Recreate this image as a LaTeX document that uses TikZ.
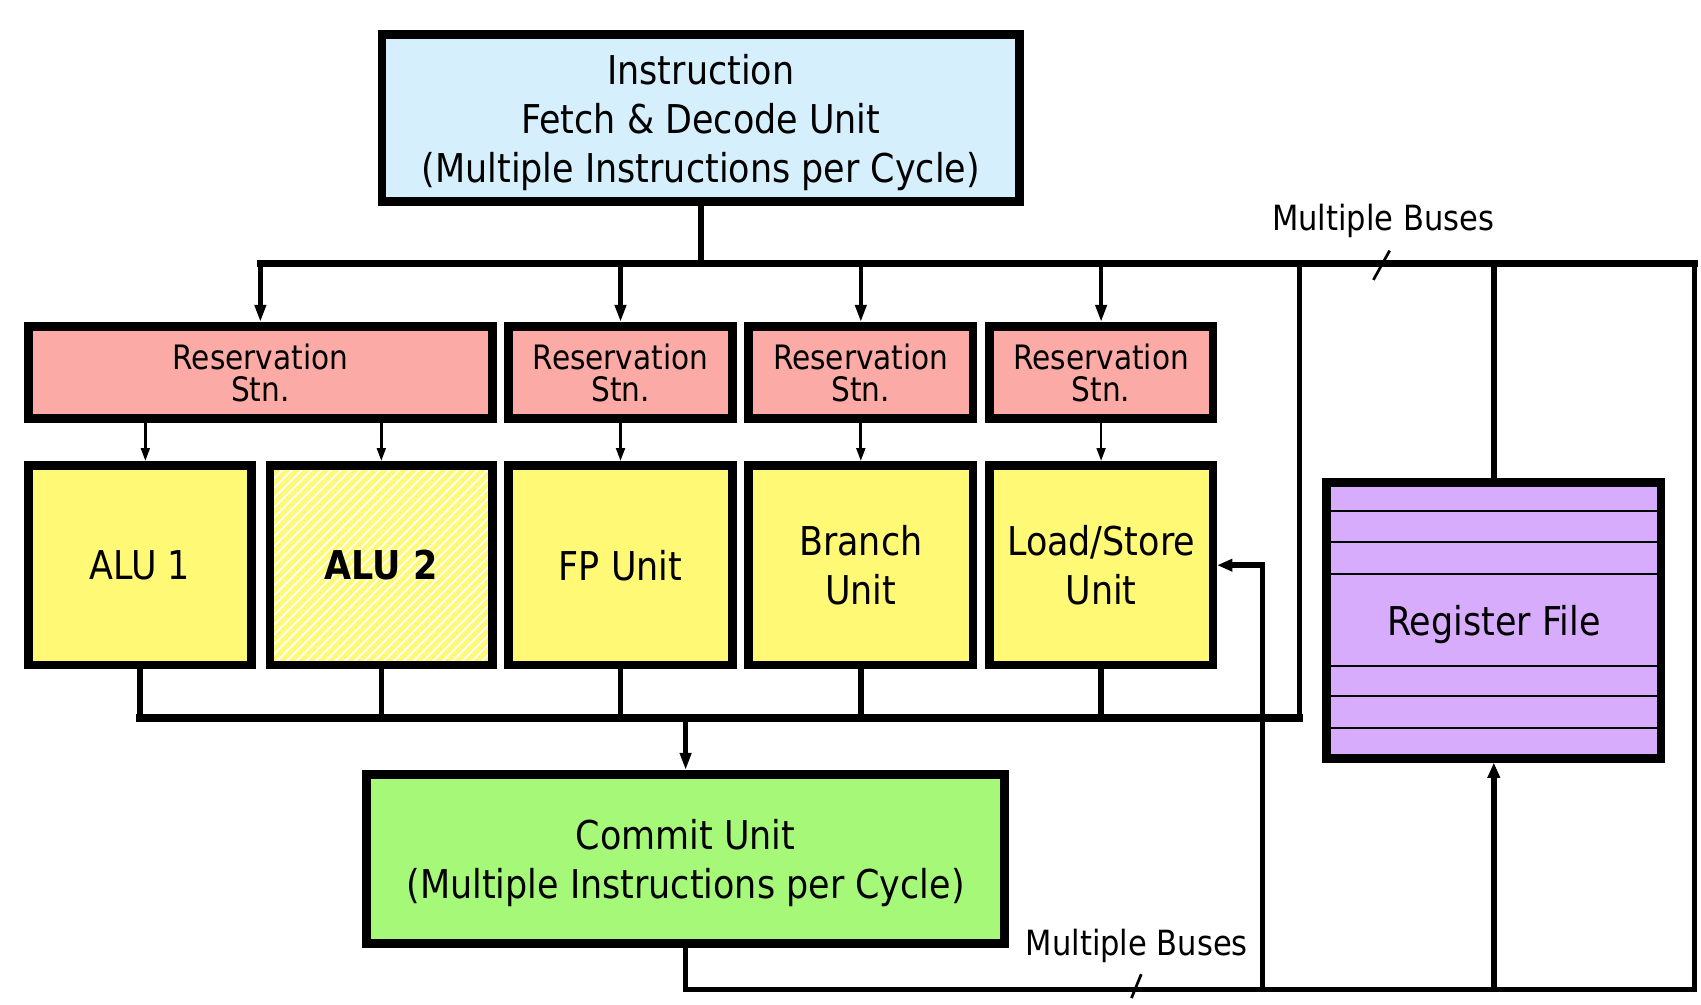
\documentclass[tikz,border=0pt]{standalone}
\usepackage{fontspec}
\setmainfont{DejaVu Sans}[FakeStretch=0.88]
\usetikzlibrary{arrows.meta}
\definecolor{fetchblue}{RGB}{213,239,252}
\definecolor{rspink}{RGB}{252,170,166}
\definecolor{unityellow}{RGB}{255,249,118}
\definecolor{commitgreen}{RGB}{166,249,120}
\definecolor{regpurple}{RGB}{216,172,252}
\begin{document}
\begin{tikzpicture}[x=1pt,y=-1pt,
  box/.style={draw=black,line width=8pt,rectangle,inner sep=0pt,align=center,text=black,text depth=0pt},
  bigtext/.style={font=\fontsize{36.6}{45}\selectfont},
  rsbox/.style={box,font=\fontsize{31}{30}\selectfont,fill=rspink,minimum height=85pt},
  unitbox/.style={box,bigtext,fill=unityellow,minimum height=184pt},
  feed/.style={line width=4pt,-{Triangle[length=16pt,width=10pt]}},
  issue/.style={line width=2.5pt,-{Triangle[length=12pt,width=8pt]}},
  bus/.style={line width=7pt,line cap=rect},
  wire/.style={line width=5pt},
  backarrow/.style={wire,-{Triangle[length=14pt,width=11pt]}},
  buslabel/.style={font=\fontsize{32}{30}\selectfont,text=black},
  tick/.style={line width=2.5pt}
]
\useasboundingbox (0,0) rectangle (1568,926);

% fetch / decode
\node[box,bigtext,fill=fetchblue,minimum width=588pt,minimum height=154pt] (fetch) at (646,109)
  {Instruction\\Fetch \& Decode Unit\\(Multiple Instructions per Cycle)};

% reservation stations
\node[rsbox,minimum width=428pt] (rs1) at (240,343.5) {Reservation\\Stn.};
\node[rsbox,minimum width=206pt] (rs2) at (572,343.5) {Reservation\\Stn.};
\node[rsbox,minimum width=207pt] (rs3) at (793.5,343.5) {Reservation\\Stn.};
\node[rsbox,minimum width=206pt] (rs4) at (1015,343.5) {Reservation\\Stn.};

% execution units
\node[unitbox,minimum width=206pt] (alu1) at (129,521) {ALU 1};
\begin{scope}
  \clip (249,429) rectangle (454,613);
  \fill[white] (249,429) rectangle (454,613);
  \foreach \x in {-140,-131,...,470}
    \draw[unityellow,line width=4.4pt] (\x,613) -- ++(184,-184);
\end{scope}
\node[box,font=\fontsize{36.6}{45}\selectfont\bfseries,minimum width=205pt,minimum height=184pt] (alu2) at (351.5,521) {ALU 2};
\node[unitbox,minimum width=206pt] (fp) at (572,521) {FP Unit};
\node[unitbox,minimum width=207pt] (br) at (793.5,521) {Branch\\Unit};
\node[unitbox,minimum width=206pt] (ls) at (1015,521) {Load/Store\\Unit};

% commit unit
\node[box,bigtext,fill=commitgreen,minimum width=588pt,minimum height=156pt] (commit) at (632,792)
  {Commit Unit\\(Multiple Instructions per Cycle)};

% register file with its rows
\node[box,bigtext,fill=regpurple,minimum width=308pt,minimum height=254pt] (rf) at (1377,572) {Register File};
\foreach \y in {471,500,529,614,642,671}
  \draw[line width=1.8pt] (1227,\y) -- (1527,\y);

% bus corners
\coordinate (tb) at (646,243);
\coordinate (tbR) at (1562,243);
\coordinate (bbR) at (1562,912);
\coordinate (cb) at (1198,662);
\coordinate (lsTap) at (1164,912);

% issue bus
\draw[wire] (fetch.south) -- (fetch.south |- tb);
\draw[bus] (rs1.north |- tb) -- (tbR);
\foreach \r in {rs1,rs2,rs3,rs4}
  \draw[feed] (\r.north |- tb) -- (\r.north);
\draw[issue] ([xshift=5pt]rs1.south -| alu1.north) -- ([xshift=5pt]alu1.north);
\draw[issue] (rs1.south -| alu2.north) -- (alu2.north);
\draw[issue] (rs2.south) -- (fp.north);
\draw[issue] (rs3.south) -- (br.north);
\draw[issue] (rs4.south) -- (ls.north);

% result bus
\foreach \u in {alu1,alu2,fp,br,ls}
  \draw[wire] (\u.south) -- (\u.south |- cb);
\draw[bus] (alu1.south |- cb) -- (cb);
\draw[wire,line cap=rect] (cb) -- (cb |- tb);
\draw[feed] (commit.north |- cb) -- (commit.north);

% commit bus
\draw[wire,line join=miter] (commit.south) |- (bbR) -- (tbR);
\draw[backarrow] (lsTap) |- (ls.east);
\draw[backarrow] (rf.south |- bbR) -- (rf.south);
\draw[wire] (rf.north) -- (rf.north |- tb);

% bus labels
\node[buslabel] (lblTop) at (1275,204) {Multiple Buses};
\draw[tick] (1266,258) -- (1281,231);
\node[buslabel] (lblBot) at (1048,872) {Multiple Buses};
\draw[tick] (1043,920) -- (1052,898);
\end{tikzpicture}
\end{document}
